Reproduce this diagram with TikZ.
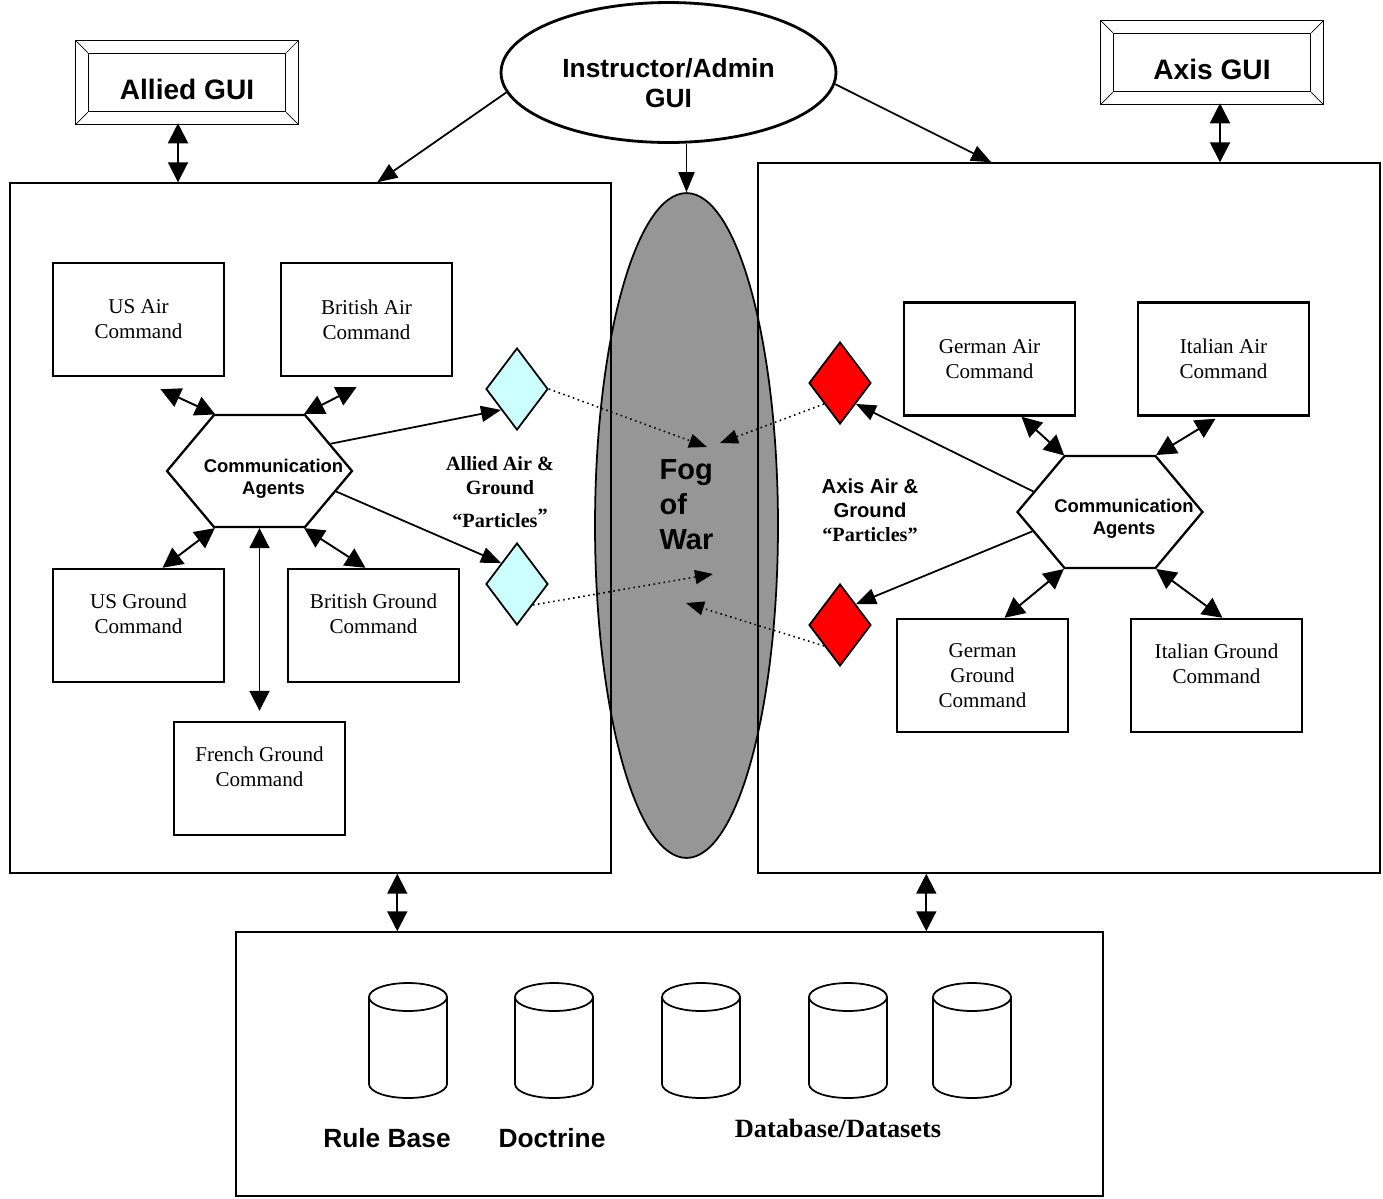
\documentclass[tikz,border=0pt]{standalone}
\usepackage{fontspec}
\setmainfont{Liberation Serif}
\setsansfont{Liberation Sans}
\usepackage{xcolor}
\definecolor{Fog Gray}{HTML}{969696}
\definecolor{Pale Cyan}{HTML}{CCFFFF}
\definecolor{Axis Red}{HTML}{FF0000}
\colorlet{cFog}{Fog Gray}
\colorlet{cAllied}{Pale Cyan}
\colorlet{cAxis}{Axis Red}
\usepackage{tikz}
\usetikzlibrary{calc, positioning, arrows.meta, shapes.geometric, shapes.symbols}
\tikzset{
	line width = .9pt,
	panel/.style={
		draw,
		line width=.9pt,
		inner sep=0pt
	},
	gui/.style={
		draw,
		line width=.9pt,
		minimum width=3.94cm,
		minimum height=1.16cm,
		text height=19.5pt,
		font=\sffamily\bfseries\fontsize{16}{19}\selectfont
	},
	command/.style={
		draw,
		line width=1.4pt,
		minimum width=3.42cm,
		minimum height=2.26cm,
		align=center,
		font=\rmfamily\fontsize{12}{14.2}\selectfont
	},
	raised/.style={
		text depth=13pt
	},
	hexagent/.style={
		draw,
		signal,
		signal to=east and west,
		signal pointer angle=100,
		line width=1.3pt,
		minimum width=3.7cm,
		minimum height=2.24cm,
		inner sep=0pt
	},
	agenttext/.style={
		align=center,
		font=\sffamily\bfseries\fontsize{10.5}{12.5}\selectfont
	},
	particle/.style={
		draw,
		diamond,
		line width=1pt,
		minimum width=1.24cm,
		minimum height=1.64cm,
		inner sep=0pt
	},
	particletext/.style={
		align=center,
		font=\rmfamily\bfseries\fontsize{11.5}{13.7}\selectfont
	},
	link/.style={
		{Triangle[length=.4cm, width=.4cm]}-{Triangle[length=.4cm, width=.4cm]},
		line width=1.1pt
	},
	feed/.style={
		-{Triangle[length=.4cm, width=.32cm]},
		line width=1pt
	},
	fogline/.style={
		-{Triangle[length=.36cm, width=.28cm]},
		dotted,
		line width=.9pt
	},
	store/.style={
		line width=1pt
	}
}

\begin{document}
\begin{tikzpicture}[x=0.02cm, y=-0.02cm]
	\useasboundingbox (0,0) rectangle (1383,1198);

	\node[draw, ellipse, line width=1pt, fill=cFog, minimum width=3.66cm, minimum height=13.3cm] (fog) at (686.5,525.5) {};
	\node[align=left, font=\sffamily\bfseries\fontsize{16.5}{20}\selectfont] (fogtext) at ($(fog)+(0,-21)$) {Fog\\of\\War};

	\node[panel, minimum width=12.02cm, minimum height=13.8cm] (lpanel) at (310.5,528) {};
	\node[panel, minimum width=12.44cm, minimum height=14.2cm] (rpanel) at (1069,518) {};
	\node[panel, minimum width=17.34cm, minimum height=5.28cm] (base) at (669.5,1064) {};

	\node[draw, ellipse, line width=1.6pt, minimum width=6.7cm, minimum height=2.8cm, align=center, text height=39.5pt,
		font=\sffamily\bfseries\fontsize{15}{17}\selectfont] (admin) at (668.5,72.5) {Instructor/Admin\\GUI};

	\node[gui] (alliedgui) at (187,82.5) {Allied GUI};
	\node[gui] (axisgui) at (1212,62.5) {Axis GUI};
	\foreach \g in {alliedgui, axisgui} {
		\draw ($(\g.north west)+(-12,-12)$) rectangle ($(\g.south east)+(12,12)$);
		\draw (\g.north west) -- +(-12,-12);
		\draw (\g.north east) -- +(12,-12);
		\draw (\g.south west) -- +(-12,12);
		\draw (\g.south east) -- +(12,12);
	}

	\node[command] (usair) at (138.5,319.5) {US Air\\Command};
	\node[command] (britair) at (366.5,319.5) {British Air\\Command};
	\node[command, raised] (usground) at (138.5,625.5) {US Ground\\Command};
	\node[command, raised] (britground) at (373.5,625.5) {British Ground\\Command};
	\node[command, raised] (french) at (259.5,778.5) {French Ground\\Command};

	\node[command] (gerair) at (989.5,359) {German Air\\Command};
	\node[command] (itair) at (1223.5,359) {Italian Air\\Command};
	\node[command] (gerground) at (982.5,675.5) {German\\Ground\\Command};
	\node[command, raised] (itground) at (1216.5,675.5) {Italian Ground\\Command};

	\node[hexagent] (lhex) at (259.5,471) {};
	\node[agenttext] (lhextext) at ($(lhex)+(14,8)$) {Communication\\Agents};
	\node[hexagent] (rhex) at (1110,512) {};
	\node[agenttext] (rhextext) at ($(rhex)+(14,7)$) {Communication\\Agents};

	\node[particle, fill=cAllied] (adia1) at (517,389) {};
	\node[particle, fill=cAllied] (adia2) at (517,584) {};
	\node[particle, fill=cAxis] (xdia1) at (840,383) {};
	\node[particle, fill=cAxis] (xdia2) at (840,625) {};

	\node[particletext] (alliedlabel) at (500,492) {Allied Air \&\\Ground\\[5pt]“Particles\raisebox{.5ex}{”}};
	\node[particletext] (axislabel) at (870,510) {{\sffamily Axis Air \&}\\{\sffamily Ground}\\“Particles”};

	\draw[feed] (admin.187) -- ($(lpanel.north west)+(368,0)$);
	\draw[feed] (admin.-4) -- ($(rpanel.north west)+(234,0)$);
	\draw[feed] (fog.north |- admin.south) -- (fog.north);

	\coordinate (aguiport) at ($(alliedgui.south)+(-9,11)$);
	\draw[link] (aguiport) -- (aguiport |- lpanel.north);
	\coordinate (xguiport) at ($(axisgui.south)+(8,11)$);
	\draw[link] (xguiport) -- (xguiport |- rpanel.north);

	\draw[link] (lhex.128) -- ($(usair.south)+(22,12)$);
	\draw[link] (lhex.52) -- ($(britair.south)+(-10,10)$);
	\draw[link] (lhex.232) -- ($(usground.north)+(24,0)$);
	\draw[link] (lhex.308) -- ($(britground.north)+(-8,0)$);
	\draw[link] (lhex.south) -- ($(french.north)+(0,-10)$);

	\draw[link] (rhex.129) -- ($(gerair.south)+(32,0)$);
	\draw[link] (rhex.51) -- ($(itair.south)+(-8,2)$);
	\draw[link] (rhex.231) -- ($(gerground.north)+(22,0)$);
	\draw[link] (rhex.309) -- ($(itground.north)+(6,0)$);

	\draw[feed] (lhex.21) -- (adia1.south west);
	\draw[feed] (lhex.-15) -- (adia2.north west);
	\draw[feed] (rhex.165) -- (xdia1.south east);
	\draw[feed] (rhex.194) -- (xdia2.north east);

	\coordinate (fogA) at (707,447);
	\coordinate (fogB) at (720,443);
	\coordinate (fogC) at (713,574);
	\coordinate (fogD) at (686,603);
	\draw[fogline] (adia1.east) -- (fogA);
	\draw[fogline] (xdia1.south west) -- (fogB);
	\draw[fogline] (adia2.south east) -- (fogC);
	\draw[fogline] (xdia2.south west) -- (fogD);

	\coordinate (lport) at ($(lpanel.south west)+(388,0)$);
	\draw[link] (lport) -- (lport |- base.north);
	\coordinate (rport) at ($(rpanel.south west)+(169,0)$);
	\draw[link] (rport) -- (rport |- base.north);

	\foreach \x in {408,554,701,848,972} {
		\draw[store] (\x-39,997) -- (\x-39,1084) arc[start angle=180, end angle=0, x radius=39, y radius=14] -- (\x+39,997);
		\draw[store] (\x,997) ellipse [x radius=39, y radius=14];
	}
	\node[font=\sffamily\bfseries\fontsize{15}{18}\selectfont] (rulebase) at (387,1138) {Rule Base};
	\node[font=\sffamily\bfseries\fontsize{15}{18}\selectfont] (doctrine) at (552,1138) {Doctrine};
	\node[font=\rmfamily\bfseries\fontsize{15}{18}\selectfont] (datasets) at (838,1128) {Database/Datasets};
\end{tikzpicture}
\end{document}
